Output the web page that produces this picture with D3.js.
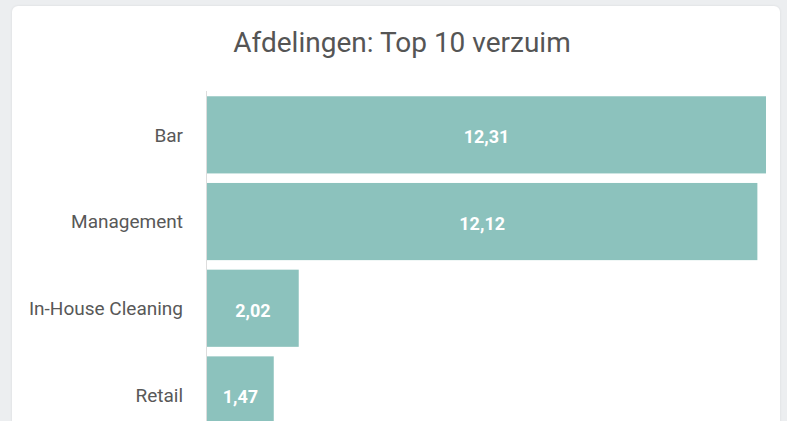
<!DOCTYPE html>
<meta charset="utf-8">
<style>
body{
    margin: 0;
    background: #eceef0;
    font-family: Roboto, sans-serif;
}
.card{
    position: absolute;
    left: 12px;
    top: 6px;
    width: 768px;
    height: 440px;
    background: #fff;
    border-radius: 6px;
    box-shadow: 0 0 3px rgba(0,0,0,0.08);
}
svg{ position: absolute; left: 0; top: 0; }
</style>
<body>
<div class="card"></div>
<div id="chart"></div>

<script src="https://d3js.org/d3.v7.min.js"></script>
<script>

var departments = ["Bar", "Management", "In-House Cleaning", "Retail"];
var absence = [12.31, 12.12, 2.02, 1.47];
var title = "Afdelingen: Top 10 verzuim";

var width = 787, height = 421;

var svg = d3.select("#chart")
  .append("svg")
    .attr("width", width)
    .attr("height", height);

var x = d3.scaleLinear()
    .domain([0, 12.31])
    .range([207, 766]);

var y = d3.scaleBand()
    .domain(departments)
    .range([91.5, 91.5 + 86.7 * departments.length])
    .paddingInner(0.11)
    .paddingOuter(0.055);

svg.append("text")
    .attr("x", 402)
    .attr("y", 52)
    .attr("text-anchor", "middle")
    .style("font-size", "28px")
    .style("fill", "#555")
    .text(title);

svg.selectAll("rect.bar")
    .data(departments)
    .enter()
    .append("rect")
      .attr("class", "bar")
      .attr("x", x(0))
      .attr("y", function(d) { return y(d); })
      .attr("width", function(d, i) { return x(absence[i]) - x(0); })
      .attr("height", y.bandwidth())
      .style("fill", "#8cc2bd");

svg.append("line")
    .attr("x1", x(0) - 0.5)
    .attr("x2", x(0) - 0.5)
    .attr("y1", 91)
    .attr("y2", height)
    .attr("stroke", "#ddd");

svg.selectAll("text.cat")
    .data(departments)
    .enter()
    .append("text")
      .attr("class", "cat")
      .attr("x", 183)
      .attr("y", function(d) { return y(d) + y.bandwidth() / 2; })
      .attr("dy", "0.35em")
      .attr("text-anchor", "end")
      .style("font-size", "19px")
      .style("fill", "#585858")
      .text(function(d) { return d; });

svg.selectAll("text.val")
    .data(departments)
    .enter()
    .append("text")
      .attr("class", "val")
      .attr("x", function(d, i) { return (x(0) + x(absence[i])) / 2; })
      .attr("y", function(d) { return y(d) + y.bandwidth() / 2 + 2; })
      .attr("dy", "0.35em")
      .attr("text-anchor", "middle")
      .style("font-size", "18px")
      .style("font-weight", "bold")
      .style("fill", "#fff")
      .text(function(d, i) { return absence[i].toFixed(2).replace(".", ","); });

</script>
</body>
